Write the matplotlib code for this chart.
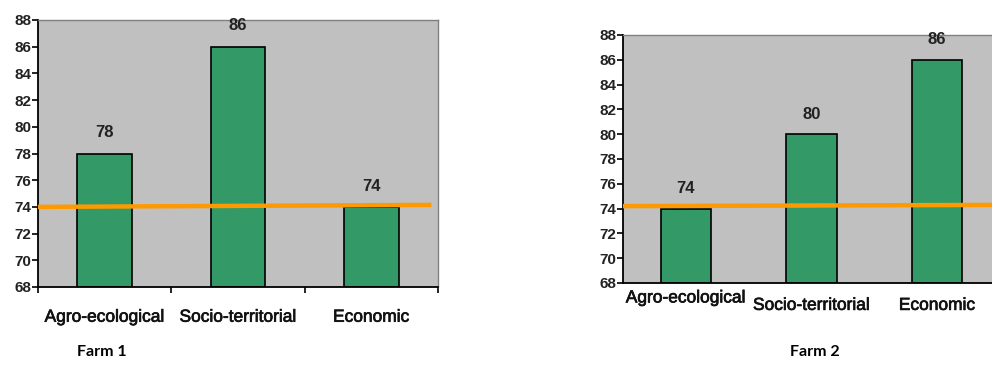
import matplotlib.pyplot as plt
import matplotlib.patheffects as pe
import numpy as np

# Sustainability scores per dimension for each farm
categories = ["Agro-ecological", "Socio-territorial", "Economic"]
farm1_scores = [78, 86, 74]
farm2_scores = [74, 80, 86]
farm_names = ["Farm 1", "Farm 2"]

# Reference threshold line (drawn slightly tilted, as in the original sheet)
threshold_start = [74.0, 74.2]
threshold_end = [74.15, 74.3]

BAR_GREEN = "#339966"
PLOT_GREY = "#C0C0C0"
LINE_ORANGE = "#FF9900"

plt.rcParams["font.family"] = ["Liberation Sans", "DejaVu Sans"]
heavy = [pe.withStroke(linewidth=0.5, foreground="#111111")]

fig = plt.figure(figsize=(9.92, 3.65), dpi=100)
ax1 = fig.add_axes([38 / 992, 1 - 287 / 365, 400 / 992, 267 / 365])
ax2 = fig.add_axes([623 / 992, 1 - 283 / 365, 377 / 992, 248 / 365])


def draw_panel(ax, scores, y0, y1, x_end, width, xticks):
    x = np.arange(len(categories))
    ax.set_facecolor(PLOT_GREY)
    ax.bar(x, np.array(scores) - 68, bottom=68, width=width,
           color=BAR_GREEN, edgecolor="black", linewidth=1.2, zorder=2)
    for xi, v in zip(x, scores):
        ax.text(xi, v + 1.0, str(v), ha="center", va="bottom",
                fontsize=12, fontweight="bold", color="#222222", zorder=4)
    ax.plot([-0.5, x_end], [y0, y1], color=LINE_ORANGE, lw=3.2,
            solid_capstyle="butt", zorder=3, clip_on=False)
    ax.set_xlim(-0.5, 2.5)
    ax.set_ylim(68, 88)
    ax.set_yticks(range(68, 89, 2))
    ax.set_xticks(xticks)
    ax.set_xticklabels([])
    ax.tick_params(axis="both", direction="out", length=4, width=1.2,
                   color="black")
    ax.tick_params(axis="y", labelsize=11, pad=1)
    for lbl in ax.get_yticklabels():
        lbl.set_fontweight("bold")
        lbl.set_color("#222222")
    for side in ("left", "bottom"):
        ax.spines[side].set_color("black")
        ax.spines[side].set_linewidth(1.3)
    for side in ("top", "right"):
        ax.spines[side].set_color("#808080")
        ax.spines[side].set_linewidth(1.0)


draw_panel(ax1, farm1_scores, threshold_start[0], threshold_end[0], 2.45, 0.41,
           [-0.5, 0.5, 1.5, 2.5])
draw_panel(ax2, farm2_scores, threshold_start[1], threshold_end[1], 2.5, 0.40,
           [])

# category labels under each panel
for xi, name in enumerate(categories):
    ax1.text(xi, 66.3, name, ha="center", va="top", fontsize=12.5,
             color="#111111", path_effects=heavy)
for xi, name in enumerate(categories):
    dy = 67.4 if xi == 0 else 66.8
    ax2.text(xi, dy, name, ha="center", va="top", fontsize=12.5,
             color="#111111", path_effects=heavy)

fig.text(102 / 992, 1 - 352 / 365, farm_names[0], ha="center", va="center",
         fontsize=11.5, fontweight="bold", family="Lato")
fig.text(815 / 992, 1 - 352 / 365, farm_names[1], ha="center", va="center",
         fontsize=11.5, fontweight="bold", family="Lato")

fig.savefig("out.png", dpi=100)
